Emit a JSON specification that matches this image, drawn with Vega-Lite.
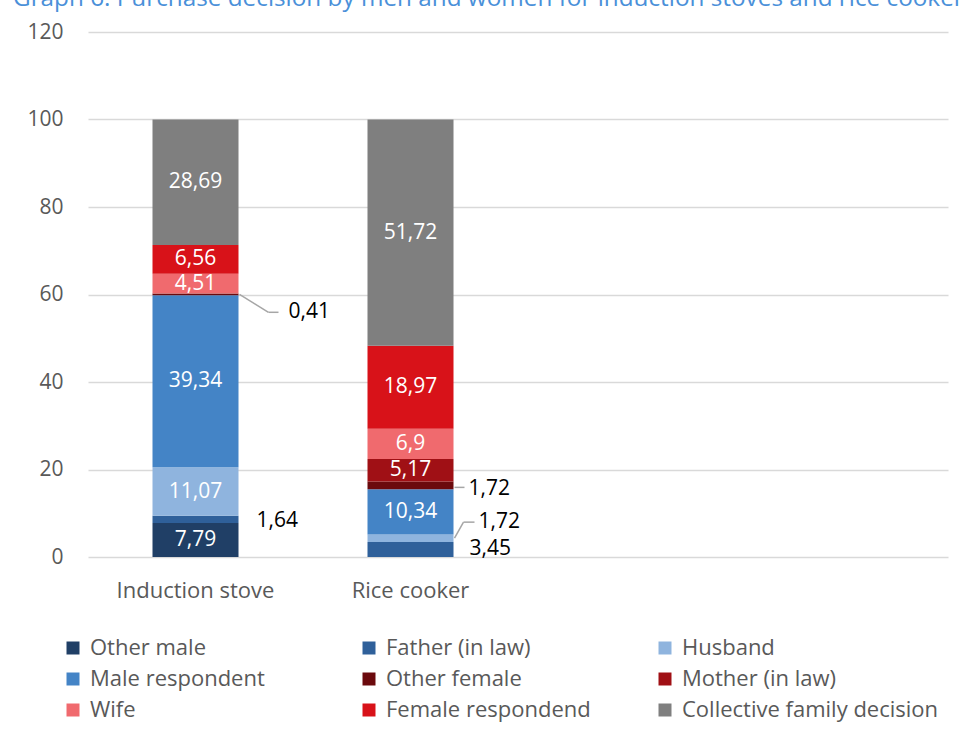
{
  "$schema": "https://vega.github.io/schema/vega-lite/v6.json",
  "autosize": {"type": "none"},
  "padding": {"left": 88, "top": 32, "right": 16, "bottom": 178},
  "width": 860,
  "height": 525,
  "background": "white",
  "config": {
    "font": "Open Sans",
    "view": {"stroke": null},
    "text": {"font": "Open Sans"}
  },
  "title": {
    "text": "Graph 6: Purchase decision by men and women for induction stoves and rice cookers",
    "anchor": "start",
    "frame": "bounds",
    "color": "#4A90D9",
    "fontSize": 24.3,
    "fontWeight": "normal",
    "font": "Open Sans",
    "baseline": "alphabetic",
    "offset": 4,
    "dy": 13,
    "dx": -14
  },
  "data": {
    "values": [
      {"cat": "Induction stove", "who": "Other male", "v": 7.79, "lab": "7,79"},
      {"cat": "Induction stove", "who": "Father (in law)", "v": 1.64, "lab": "1,64"},
      {"cat": "Induction stove", "who": "Husband", "v": 11.07, "lab": "11,07"},
      {"cat": "Induction stove", "who": "Male respondent", "v": 39.34, "lab": "39,34"},
      {"cat": "Induction stove", "who": "Other female", "v": 0.41, "lab": "0,41"},
      {"cat": "Induction stove", "who": "Wife", "v": 4.51, "lab": "4,51"},
      {"cat": "Induction stove", "who": "Female respondend", "v": 6.56, "lab": "6,56"},
      {"cat": "Induction stove", "who": "Collective family decision", "v": 28.69, "lab": "28,69"},
      {"cat": "Rice cooker", "who": "Father (in law)", "v": 3.45, "lab": "3,45"},
      {"cat": "Rice cooker", "who": "Husband", "v": 1.72, "lab": "1,72"},
      {"cat": "Rice cooker", "who": "Male respondent", "v": 10.34, "lab": "10,34"},
      {"cat": "Rice cooker", "who": "Other female", "v": 1.72, "lab": "1,72"},
      {"cat": "Rice cooker", "who": "Mother (in law)", "v": 5.17, "lab": "5,17"},
      {"cat": "Rice cooker", "who": "Wife", "v": 6.9, "lab": "6,9"},
      {"cat": "Rice cooker", "who": "Female respondend", "v": 18.97, "lab": "18,97"},
      {"cat": "Rice cooker", "who": "Collective family decision", "v": 51.72, "lab": "51,72"}
    ]
  },
  "transform": [
    {"calculate": "indexof(['Other male','Father (in law)','Husband','Male respondent','Other female','Mother (in law)','Wife','Female respondend','Collective family decision'], datum.who)", "as": "ord"},
    {"stack": "v", "groupby": ["cat"], "sort": [{"field": "ord", "order": "ascending"}], "as": ["y0", "y1"]},
    {"calculate": "(datum.y0 + datum.y1) / 2", "as": "ym"}
  ],
  "encoding": {
    "x": {
      "field": "cat",
      "type": "nominal",
      "scale": {"domain": ["Induction stove", "Rice cooker", "c3", "c4"], "paddingInner": 0.6, "paddingOuter": 0.3},
      "axis": {
        "title": null,
        "labelAngle": 0,
        "labelFontSize": 22,
        "labelColor": "#595959",
        "labelPadding": 23,
        "domain": false,
        "ticks": false,
        "labelExpr": "datum.value == 'c3' || datum.value == 'c4' ? '' : datum.value"
      }
    }
  },
  "layer": [
    {
      "mark": {"type": "bar"},
      "encoding": {
        "y": {
          "field": "y0",
          "type": "quantitative",
          "scale": {"domain": [0, 120]},
          "axis": {
            "title": null,
            "values": [0, 20, 40, 60, 80, 100, 120],
            "labelFontSize": 21,
            "labelColor": "#595959",
            "labelPadding": 25,
            "domain": false,
            "ticks": false,
            "gridColor": "#D9D9D9",
            "gridWidth": 1.5
          }
        },
        "y2": {"field": "y1"},
        "color": {
          "field": "who",
          "type": "nominal",
          "scale": {
            "domain": ["Other male", "Father (in law)", "Husband", "Male respondent", "Other female", "Mother (in law)", "Wife", "Female respondend", "Collective family decision"],
            "range": ["#203F66", "#2F609A", "#8FB4DE", "#4484C6", "#6B0A0D", "#A01015", "#F06A6E", "#D81219", "#7F7F7F"]
          },
          "legend": {
            "title": null,
            "orient": "none",
            "direction": "horizontal",
            "legendX": -26,
            "legendY": 605,
            "columns": 3,
            "gridAlign": "all",
            "columnPadding": 11,
            "rowPadding": 9,
            "symbolType": "square",
            "symbolSize": 169,
            "symbolStrokeWidth": 0,
            "labelFontSize": 22,
            "labelColor": "#595959",
            "labelOffset": 6,
            "labelLimit": 400,
            "padding": 0
          }
        }
      }
    },
    {
      "transform": [{"filter": "datum.v >= 4"}],
      "mark": {"type": "text", "color": "white", "fontSize": 21},
      "encoding": {
        "y": {"field": "ym", "type": "quantitative"},
        "text": {"field": "lab"}
      }
    },
    {
      "transform": [{"filter": "datum.cat == 'Induction stove' && datum.who == 'Father (in law)'"}],
      "mark": {"type": "text", "color": "#000000", "fontSize": 21, "align": "left", "dx": 61, "dy": 2},
      "encoding": {"y": {"field": "ym", "type": "quantitative"}, "text": {"field": "lab"}}
    },
    {
      "transform": [{"filter": "datum.cat == 'Induction stove' && datum.who == 'Other female'"}],
      "mark": {"type": "text", "color": "#000000", "fontSize": 21, "align": "left", "dx": 93, "dy": 18},
      "encoding": {"y": {"field": "ym", "type": "quantitative"}, "text": {"field": "lab"}}
    },
    {
      "transform": [{"filter": "datum.cat == 'Rice cooker' && datum.who == 'Other female'"}],
      "mark": {"type": "text", "color": "#000000", "fontSize": 21, "align": "left", "dx": 58, "dy": 4},
      "encoding": {"y": {"field": "ym", "type": "quantitative"}, "text": {"field": "lab"}}
    },
    {
      "transform": [{"filter": "datum.cat == 'Rice cooker' && datum.who == 'Husband'"}],
      "mark": {"type": "text", "color": "#000000", "fontSize": 21, "align": "left", "dx": 68, "dy": -16},
      "encoding": {"y": {"field": "ym", "type": "quantitative"}, "text": {"field": "lab"}}
    },
    {
      "transform": [{"filter": "datum.cat == 'Rice cooker' && datum.who == 'Father (in law)'"}],
      "mark": {"type": "text", "color": "#000000", "fontSize": 21, "align": "left", "dx": 59, "dy": 0},
      "encoding": {"y": {"field": "ym", "type": "quantitative"}, "text": {"field": "lab"}}
    },
    {
      "transform": [{"filter": "datum.cat == 'Induction stove' && datum.who == 'Other female'"}],
      "mark": {"type": "rule", "color": "#A6A6A6", "strokeWidth": 1.5, "xOffset": 44, "x2Offset": 73, "yOffset": 0, "y2Offset": 18},
      "encoding": {"y": {"field": "ym", "type": "quantitative"}, "y2": {"field": "ym"}, "x2": {"field": "cat"}}
    },
    {
      "transform": [{"filter": "datum.cat == 'Induction stove' && datum.who == 'Other female'"}],
      "mark": {"type": "rule", "color": "#A6A6A6", "strokeWidth": 1.5, "xOffset": 73, "x2Offset": 83, "yOffset": 18, "y2Offset": 18},
      "encoding": {"y": {"field": "ym", "type": "quantitative"}, "y2": {"field": "ym"}, "x2": {"field": "cat"}}
    },
    {
      "transform": [{"filter": "datum.cat == 'Rice cooker' && datum.who == 'Other female'"}],
      "mark": {"type": "rule", "color": "#A6A6A6", "strokeWidth": 1.5, "xOffset": 44, "x2Offset": 54, "yOffset": 2, "y2Offset": 2},
      "encoding": {"y": {"field": "ym", "type": "quantitative"}, "y2": {"field": "ym"}, "x2": {"field": "cat"}}
    },
    {
      "transform": [{"filter": "datum.cat == 'Rice cooker' && datum.who == 'Husband'"}],
      "mark": {"type": "rule", "color": "#A6A6A6", "strokeWidth": 1.5, "xOffset": 44, "x2Offset": 53, "yOffset": 0, "y2Offset": -16},
      "encoding": {"y": {"field": "ym", "type": "quantitative"}, "y2": {"field": "ym"}, "x2": {"field": "cat"}}
    },
    {
      "transform": [{"filter": "datum.cat == 'Rice cooker' && datum.who == 'Husband'"}],
      "mark": {"type": "rule", "color": "#A6A6A6", "strokeWidth": 1.5, "xOffset": 53, "x2Offset": 64, "yOffset": -16, "y2Offset": -16},
      "encoding": {"y": {"field": "ym", "type": "quantitative"}, "y2": {"field": "ym"}, "x2": {"field": "cat"}}
    }
  ]
}
